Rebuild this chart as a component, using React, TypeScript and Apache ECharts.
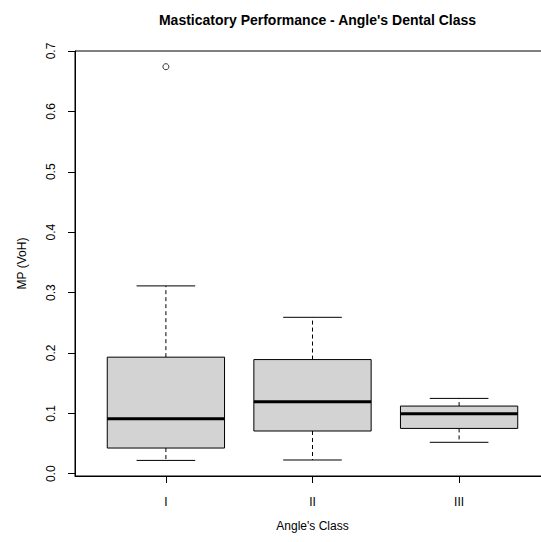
import React, { useEffect, useRef } from "react";
import * as echarts from "echarts";

const categories = ["I", "II", "III"];
const lowerWhisker = [0.022, 0.0227, 0.052];
const q1 = [0.0425, 0.0707, 0.075];
const median = [0.091, 0.119, 0.0993];
const q3 = [0.193, 0.189, 0.112];
const upperWhisker = [0.311, 0.259, 0.1247];
const outlierGroup = [1];
const outlierValue = [0.674];
const yTicks = [0, 0.1, 0.2, 0.3, 0.4, 0.5, 0.6, 0.7];

const FONT = "Liberation Sans, Arial, sans-serif";

export default function App() {
  const ref = useRef<HTMLDivElement>(null);
  useEffect(() => {
    if (!ref.current) return;
    const chart = echarts.init(ref.current, null, { renderer: "svg" });
    const boxData = categories.map((_, i) => [
      i + 1,
      lowerWhisker[i],
      q1[i],
      median[i],
      q3[i],
      upperWhisker[i],
    ]);
    const renderItem = (params: any, api: any) => {
      const x = api.value(0);
      const lo = api.coord([x, api.value(1)]);
      const b1 = api.coord([x, api.value(2)]);
      const md = api.coord([x, api.value(3)]);
      const b3 = api.coord([x, api.value(4)]);
      const hi = api.coord([x, api.value(5)]);
      const boxW = api.size([0.8, 0])[0];
      const capW = api.size([0.4, 0])[0];
      const cx = lo[0];
      const lineStyle = { stroke: "#000", lineWidth: 1 };
      return {
        type: "group",
        children: [
          {
            type: "line",
            shape: { x1: cx, y1: b3[1], x2: cx, y2: hi[1] },
            style: { ...lineStyle, lineDash: [4, 3] },
          },
          {
            type: "line",
            shape: { x1: cx, y1: b1[1], x2: cx, y2: lo[1] },
            style: { ...lineStyle, lineDash: [4, 3] },
          },
          {
            type: "line",
            shape: { x1: cx - capW / 2, y1: hi[1], x2: cx + capW / 2, y2: hi[1] },
            style: lineStyle,
          },
          {
            type: "line",
            shape: { x1: cx - capW / 2, y1: lo[1], x2: cx + capW / 2, y2: lo[1] },
            style: lineStyle,
          },
          {
            type: "rect",
            shape: { x: cx - boxW / 2, y: b3[1], width: boxW, height: b1[1] - b3[1] },
            style: { fill: "#d3d3d3", stroke: "#000", lineWidth: 1 },
          },
          {
            type: "line",
            shape: { x1: cx - boxW / 2, y1: md[1], x2: cx + boxW / 2, y2: md[1] },
            style: { stroke: "#000", lineWidth: 3 },
          },
        ],
      };
    };
    chart.setOption({
      animation: false,
      title: {
        text: "Masticatory Performance - Angle's Dental Class",
        left: 312.5,
        textAlign: "center",
        top: 8,
        textStyle: { fontFamily: FONT, fontSize: 14, fontWeight: "bold", color: "#000" },
      },
      grid: {
        left: 75,
        top: 51,
        width: 475,
        height: 425,
        show: true,
        borderColor: "#000",
        borderWidth: 1,
        backgroundColor: "transparent",
        outerBoundsMode: "none",
        containLabel: false,
      },
      xAxis: {
        type: "value",
        min: 0.38,
        max: 3.62,
        name: "Angle's Class",
        nameLocation: "middle",
        nameGap: 44,
        nameTextStyle: { fontFamily: FONT, fontSize: 12, color: "#000" },
        axisLine: { show: true, onZero: false, lineStyle: { color: "#000" } },
        axisTick: { show: true, length: 7, lineStyle: { color: "#000" }, customValues: [1, 2, 3] },
        axisLabel: {
          fontFamily: FONT,
          fontSize: 12,
          color: "#000",
          margin: 20,
          customValues: [1, 2, 3],
          formatter: (v: number) => categories[Math.round(v) - 1] ?? "",
        },
        splitLine: { show: false },
      },
      yAxis: {
        type: "value",
        min: -0.0038,
        max: 0.7,
        name: "MP (VoH)",
        nameLocation: "middle",
        nameRotate: 90,
        nameGap: 47,
        nameTextStyle: { fontFamily: FONT, fontSize: 12, color: "#000" },
        axisLine: { show: true, lineStyle: { color: "#000" } },
        axisTick: { show: true, length: 7, lineStyle: { color: "#000" }, customValues: yTicks },
        axisLabel: {
          fontFamily: FONT,
          fontSize: 12,
          color: "#000",
          rotate: 90,
          margin: 18,
          customValues: yTicks,
          formatter: (v: number) => v.toFixed(1),
        },
        splitLine: { show: false },
      },
      series: [
        {
          type: "custom",
          renderItem,
          data: boxData,
          encode: { x: 0, y: [1, 2, 3, 4, 5] },
          clip: false,
        },
        {
          type: "scatter",
          data: outlierGroup.map((g, i) => [g, outlierValue[i]]),
          symbol: "circle",
          symbolSize: 6,
          itemStyle: { color: "transparent", borderColor: "#000", borderWidth: 1 },
        },
      ],
    });
    return () => chart.dispose();
  }, []);
  return (
    <div
      ref={ref}
      style={{ position: "fixed", left: 0, top: 0, width: 541, height: 542, background: "#fff" }}
    />
  );
}
